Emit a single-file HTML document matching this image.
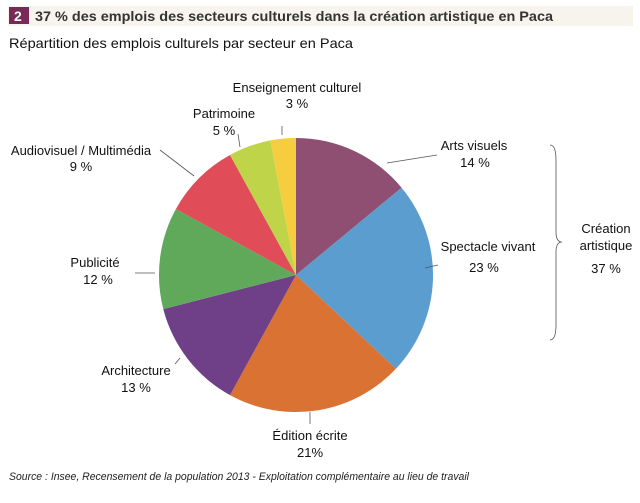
<!DOCTYPE html>
<html><head><meta charset="utf-8"><style>
body{margin:0;background:#fff;width:640px;height:498px;overflow:hidden;font-family:"Liberation Sans",Arial,sans-serif}
</style></head><body>
<svg width="640" height="498" viewBox="0 0 640 498" xmlns="http://www.w3.org/2000/svg" font-family="Liberation Sans, Arial, sans-serif">
<rect x="8" y="6" width="625" height="20" fill="#f6f4ec"/>
<rect x="9" y="7" width="20" height="17" fill="#7a2a57"/>
<text x="14" y="21" font-size="14" font-weight="bold" fill="#fff">2</text>
<text x="35" y="21" font-size="14" font-weight="bold" fill="#333" textLength="518" lengthAdjust="spacingAndGlyphs">37 % des emplois des secteurs culturels dans la création artistique en Paca</text>
<text x="9" y="48" font-size="14" fill="#111" textLength="344" lengthAdjust="spacingAndGlyphs">Répartition des emplois culturels par secteur en Paca</text>
<g stroke="none">
<path d="M296,275 L296,138 A137,137 0 0 1 401.6,187.7 Z" fill="#8e4f72"/>
<path d="M296,275 L401.6,187.7 A137,137 0 0 1 395.9,368.8 Z" fill="#5b9dcf"/>
<path d="M296,275 L395.9,368.8 A137,137 0 0 1 230,395.1 Z" fill="#d97232"/>
<path d="M296,275 L230,395.1 A137,137 0 0 1 163.3,309.1 Z" fill="#6f3f88"/>
<path d="M296,275 L163.3,309.1 A137,137 0 0 1 175.9,209 Z" fill="#61a95a"/>
<path d="M296,275 L175.9,209 A137,137 0 0 1 230,155 Z" fill="#e04c57"/>
<path d="M296,275 L230,155 A137,137 0 0 1 270.3,140.4 Z" fill="#c0d44a"/>
<path d="M296,275 L270.3,140.4 A137,137 0 0 1 296,138 Z" fill="#f5cd3e"/>
</g>
<g stroke="#555" stroke-width="0.8" fill="none">
<line x1="387" y1="163" x2="437" y2="155"/>
<line x1="438" y1="265" x2="425" y2="268"/>
<line x1="310" y1="412" x2="310" y2="424"/>
<line x1="180" y1="358" x2="175" y2="364"/>
<line x1="135" y1="273" x2="155" y2="273"/>
<line x1="160" y1="150" x2="194" y2="176"/>
<line x1="238" y1="134" x2="240" y2="147"/>
<line x1="282" y1="126" x2="282" y2="135"/>
<path d="M550,145 Q556,145 556,160 L556,232 Q556,242 562,242 Q556,242 556,252 L556,325 Q556,340 550,340"/>
</g>
<g font-size="13" fill="#111" text-anchor="middle">
<text x="297" y="92">Enseignement culturel</text><text x="297" y="108">3 %</text>
<text x="224" y="118">Patrimoine</text><text x="224" y="135">5 %</text>
<text x="81" y="155">Audiovisuel / Multimédia</text><text x="81" y="171">9 %</text>
<text x="95" y="267">Publicité</text><text x="98" y="284">12 %</text>
<text x="136" y="375">Architecture</text><text x="136" y="392">13 %</text>
<text x="310" y="440">Édition écrite</text><text x="310" y="457">21%</text>
<text x="474" y="150">Arts visuels</text><text x="475" y="167">14 %</text>
<text x="488" y="251">Spectacle vivant</text><text x="484" y="272">23 %</text>
<text x="606" y="233">Création</text><text x="606" y="250">artistique</text><text x="606" y="273">37 %</text>
</g>
<text x="9" y="480" font-size="11" font-style="italic" fill="#222" textLength="460" lengthAdjust="spacingAndGlyphs">Source : Insee, Recensement de la population 2013 - Exploitation complémentaire au lieu de travail</text>
</svg>
</body></html>
